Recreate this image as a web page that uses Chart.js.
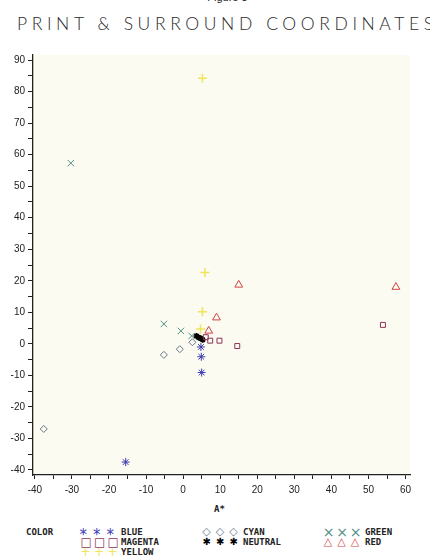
<!DOCTYPE html>
<html>
<head>
<meta charset="utf-8">
<script src="https://cdn.jsdelivr.net/npm/chart.js@4/dist/chart.umd.min.js"></script>
<style>
  html, body { margin:0; padding:0; background:#ffffff; }
  body { width:430px; height:559px; position:relative; overflow:hidden; }
  #fig { position:absolute; top:-9px; left:0; width:455px; text-align:center; font:11px "Liberation Sans", Arial, sans-serif; color:#222; }
  #title { position:absolute; top:13px; left:17px; white-space:nowrap; font-family:"Lato","DejaVu Sans",sans-serif; font-weight:300; font-size:17.5px; letter-spacing:4.6px; color:#2a2a2a; }
  #chart { position:absolute; left:0; top:0; }
  #xtitle { position:absolute; top:504px; left:214px; font:bold 9px "DejaVu Sans Mono", monospace; color:#222; }
  .lg { position:absolute; font:bold 9px "DejaVu Sans Mono", monospace; color:#222; white-space:nowrap; line-height:10px; }
  .sym { position:absolute; font:10px "DejaVu Sans", sans-serif; line-height:10px; white-space:pre; }
</style>
</head>
<body>
<div id="fig">Figure 3</div>
<div id="title">PRINT &amp; SURROUND COORDINATES</div>
<canvas id="chart" width="430" height="500"></canvas>
<div id="xtitle">A*</div>
<div id="legend"></div>
<script>
// ---- data ----
const blueX    = [-15.5, 4.8, 4.9, 5.0];
const blueY    = [-37.5, -1.0, -4.1, -9.1];
const cyanX    = [-37.6, -5.2, -0.9, 2.5];
const cyanY    = [-27.0, -3.5, -1.7, 0.5];
const greenX   = [-30.3, -5.2, -0.6, 2.3];
const greenY   = [57.3, 6.3, 4.1, 2.5];
const magentaX = [6.1, 7.3, 9.8, 14.6, 53.9];
const magentaY = [2.1, 1.0, 1.0, -0.7, 6.0];
const neutralX = [3.6, 4.2, 4.8, 5.3];
const neutralY = [2.5, 2.0, 1.7, 1.3];
const redX     = [6.9, 9.0, 15.0, 57.4];
const redY     = [4.1, 8.3, 18.7, 18.0];
const yellowX  = [4.7, 5.2, 5.9, 5.2];
const yellowY  = [4.7, 10.2, 22.6, 84.2];

const xTickLabels = [-40, -30, -20, -10, 0, 10, 20, 30, 40, 50, 60];
const xMinorTicks = [-35, -25, -15, -5, 5, 15, 25, 35, 45, 55];
const yTickLabels = [-40, -30, -20, -10, 0, 10, 20, 30, 40, 50, 60, 70, 80, 90];
const yMinorTicks = [-35, -25, -15, -5, 5, 15, 25, 35, 45, 55, 65, 75, 85];

const seriesNames = ['BLUE', 'CYAN', 'GREEN', 'MAGENTA', 'NEUTRAL', 'RED', 'YELLOW'];

function pts(xs, ys) { return xs.map((x, i) => ({ x: x, y: ys[i] })); }

const styles = {
  BLUE:    { style: 'star',     color: '#3c3cb4', r: 4,   w: 1 },
  CYAN:    { style: 'rectRot',  color: '#66788a', r: 3.5, w: 1 },
  GREEN:   { style: 'crossRot', color: '#4f8f84', r: 4.5, w: 1 },
  MAGENTA: { style: 'rect',     color: '#8c3458', r: 3.5, w: 1 },
  NEUTRAL: { style: 'star',     color: '#000000', r: 3,   w: 1.6 },
  RED:     { style: 'triangle', color: '#d24444', r: 4.5, w: 1 },
  YELLOW:  { style: 'cross',    color: '#f0e45a', r: 4.5, w: 1.5 }
};
const seriesData = {
  BLUE: pts(blueX, blueY), CYAN: pts(cyanX, cyanY), GREEN: pts(greenX, greenY),
  MAGENTA: pts(magentaX, magentaY), NEUTRAL: pts(neutralX, neutralY),
  RED: pts(redX, redY), YELLOW: pts(yellowX, yellowY)
};

const datasets = seriesNames.map(n => ({
  label: n,
  data: seriesData[n],
  pointStyle: styles[n].style,
  pointRadius: styles[n].r,
  pointBorderColor: styles[n].color,
  pointBackgroundColor: 'rgba(0,0,0,0)',
  pointBorderWidth: styles[n].w,
  showLine: false
}));

const bgPlugin = {
  id: 'bg',
  beforeDraw(chart) {
    const a = chart.chartArea, c = chart.ctx;
    c.save(); c.fillStyle = '#fbfbf1';
    c.fillRect(a.left, a.top, a.right - a.left, a.bottom - a.top);
    c.restore();
  }
};

const tickFont = { family: '"Liberation Sans", Arial, sans-serif', size: 10 };

new Chart(document.getElementById('chart'), {
  type: 'scatter',
  data: { datasets },
  plugins: [bgPlugin],
  options: {
    responsive: false,
    animation: false,
    devicePixelRatio: 1,
    layout: { padding: { top: 55, right: 20, left: 0, bottom: 0 } },
    plugins: { legend: { display: false }, tooltip: { enabled: false }, title: { display: false } },
    scales: {
      x: {
        type: 'linear', min: -40.5, max: 61.2,
        afterBuildTicks: s => { s.ticks = xTickLabels.concat(xMinorTicks).sort((a,b)=>a-b).map(v => ({ value: v })); },
        afterFit: s => { s.height = 25; },
        ticks: { autoSkip: false, maxRotation: 0, padding: 5, color: '#222', font: tickFont,
          callback: v => xTickLabels.includes(v) ? String(v) : '' },
        grid: { drawOnChartArea: false, drawTicks: true, tickLength: 4, color: '#222', lineWidth: 1 },
        border: { display: true, color: '#222', width: 1.3 }
      },
      y: {
        type: 'linear', min: -41.6, max: 91.6,
        afterBuildTicks: s => { s.ticks = yTickLabels.concat(yMinorTicks).sort((a,b)=>a-b).map(v => ({ value: v })); },
        afterFit: s => { s.width = 33; },
        ticks: { autoSkip: false, padding: 3, color: '#222', font: tickFont,
          callback: v => yTickLabels.includes(v) ? String(v) : '' },
        grid: { drawOnChartArea: false, drawTicks: true, tickLength: 5, color: '#222', lineWidth: 1 },
        border: { display: true, color: '#222', width: 1.3 }
      }
    }
  }
});

// ---- legend (HTML text) ----
const legendItems = [
  { name: 'BLUE',    sym: '*', col: 0, row: 0, size: 15, dy: 3 },
  { name: 'MAGENTA', sym: '□', col: 0, row: 1, size: 12, dy: 0 },
  { name: 'YELLOW',  sym: '+', col: 0, row: 2, size: 12, dy: 0 },
  { name: 'CYAN',    sym: '◇', col: 1, row: 0, size: 11, dy: 0 },
  { name: 'NEUTRAL', sym: '✱', col: 1, row: 1, size: 10, dy: 0 },
  { name: 'GREEN',   sym: '×', col: 2, row: 0, size: 14, dy: 0 },
  { name: 'RED',     sym: '△', col: 2, row: 1, size: 11, dy: 0 }
];
const colSymX = [84, 205.5, 327];
const colLabX = [121, 243, 365];
const rowY = [527, 537, 547];
const lg = document.getElementById('legend');
const head = document.createElement('div');
head.className = 'lg'; head.textContent = 'COLOR';
head.style.left = '26px'; head.style.top = rowY[0] + 'px';
lg.appendChild(head);
legendItems.forEach(it => {
  for (let k = 0; k < 3; k++) {
    const s = document.createElement('div');
    s.className = 'sym'; s.textContent = it.sym;
    s.style.color = styles[it.name].color;
    s.style.fontSize = it.size + 'px';
    s.style.left = (colSymX[it.col] + k * 13.5 - it.size * 0.3) + 'px';
    s.style.top = (rowY[it.row] + it.dy) + 'px';
    lg.appendChild(s);
  }
  const t = document.createElement('div');
  t.className = 'lg'; t.textContent = it.name;
  t.style.left = colLabX[it.col] + 'px'; t.style.top = rowY[it.row] + 'px';
  lg.appendChild(t);
});
</script>
</body>
</html>
